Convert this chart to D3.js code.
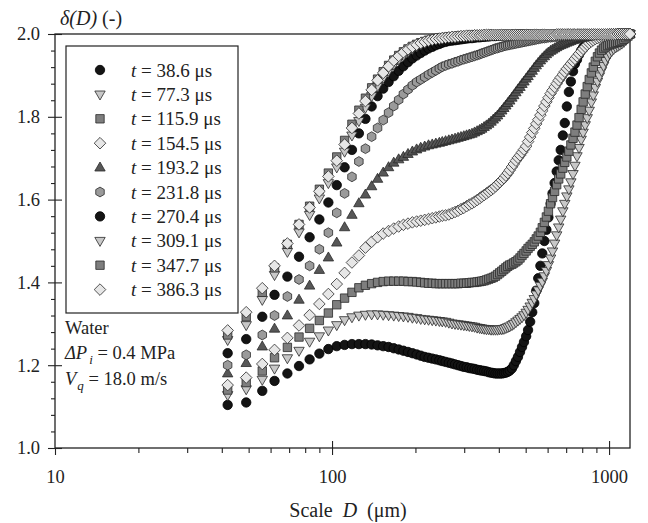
<!DOCTYPE html>
<html>
<head>
<meta charset="utf-8">
<script src="https://cdn.jsdelivr.net/npm/d3@7"></script>
<style>
  body { margin: 0; background: #fff; }
  svg { display: block; font-family: "Liberation Serif", "Times New Roman", serif; }
</style>
</head>
<body>
<div id="chart"></div>
<script>
// Scale D (um) at which delta(D) was evaluated
const scaleD = [42, 49, 56, 62, 69, 76, 83, 90, 97, 104,
  111, 118, 125, 132, 139, 146, 153, 160, 167, 174,
  181, 188, 195, 202, 209, 216, 223, 230, 237, 244,
  250, 257, 264, 271, 278, 285, 292, 299, 306, 313,
  320, 327, 334, 341, 347, 354, 361, 368, 375, 382,
  389, 396, 403, 410, 417, 424, 431, 438, 446, 453,
  461, 469, 477, 485, 493, 502, 510, 519, 528, 537,
  546, 555, 565, 574, 584, 594, 604, 615, 625, 636,
  647, 658, 669, 681, 692, 704, 716, 728, 741, 753,
  766, 779, 793, 806, 820, 834, 848, 863, 877, 892,
  908, 923, 939, 955, 971, 988, 1005, 1022, 1039, 1057,
  1075, 1093, 1112, 1131, 1150, 1170, 1190];

// delta(D) for each time step
const delta_t38_6 = [1.104, 1.110, 1.138, 1.162, 1.180, 1.198, 1.214, 1.228, 1.239, 1.246,
  1.249, 1.251, 1.251, 1.251, 1.250, 1.248, 1.246, 1.244, 1.241, 1.238,
  1.235, 1.232, 1.229, 1.226, 1.223, 1.220, 1.218, 1.216, 1.214, 1.212,
  1.210, 1.208, 1.206, 1.204, 1.202, 1.200, 1.198, 1.196, 1.195, 1.193,
  1.192, 1.191, 1.189, 1.188, 1.187, 1.186, 1.185, 1.183, 1.182, 1.181,
  1.180, 1.180, 1.180, 1.180, 1.181, 1.182, 1.184, 1.187, 1.192, 1.200,
  1.210, 1.220, 1.232, 1.244, 1.256, 1.270, 1.285, 1.305, 1.328, 1.350,
  1.380, 1.410, 1.440, 1.470, 1.500, 1.527, 1.557, 1.590, 1.615, 1.640,
  1.668, 1.695, 1.720, 1.755, 1.785, 1.825, 1.860, 1.885, 1.910, 1.928,
  1.938, 1.950, 1.960, 1.967, 1.973, 1.978, 1.982, 1.986, 1.988, 1.990,
  1.992, 1.993, 1.995, 1.996, 1.997, 1.998, 1.998, 1.999, 1.999, 2.000,
  2.000, 2.000, 2.000, 2.000, 2.000, 2.000, 2.000];

const delta_t77_3 = [1.128, 1.142, 1.165, 1.192, 1.217, 1.235, 1.257, 1.270, 1.284, 1.297,
  1.309, 1.316, 1.320, 1.322, 1.323, 1.323, 1.322, 1.321, 1.320, 1.319,
  1.318, 1.317, 1.315, 1.314, 1.312, 1.311, 1.310, 1.309, 1.308, 1.307,
  1.306, 1.305, 1.303, 1.301, 1.300, 1.299, 1.298, 1.297, 1.296, 1.295,
  1.294, 1.293, 1.291, 1.290, 1.289, 1.288, 1.287, 1.287, 1.286, 1.286,
  1.286, 1.286, 1.287, 1.287, 1.288, 1.290, 1.292, 1.294, 1.297, 1.300,
  1.304, 1.308, 1.312, 1.316, 1.321, 1.327, 1.334, 1.342, 1.351, 1.360,
  1.371, 1.381, 1.392, 1.402, 1.415, 1.428, 1.442, 1.458, 1.475, 1.494,
  1.514, 1.533, 1.552, 1.572, 1.590, 1.608, 1.625, 1.642, 1.662, 1.682,
  1.705, 1.725, 1.745, 1.762, 1.780, 1.797, 1.815, 1.835, 1.852, 1.870,
  1.885, 1.898, 1.911, 1.923, 1.935, 1.945, 1.953, 1.959, 1.964, 1.968,
  1.971, 1.974, 1.977, 1.981, 1.986, 1.992, 2.000];

const delta_t115_9 = [1.140, 1.158, 1.186, 1.218, 1.243, 1.268, 1.289, 1.308, 1.326, 1.346,
  1.362, 1.376, 1.387, 1.393, 1.397, 1.400, 1.402, 1.403, 1.403, 1.403,
  1.403, 1.402, 1.402, 1.401, 1.400, 1.399, 1.398, 1.398, 1.397, 1.397,
  1.397, 1.397, 1.397, 1.397, 1.397, 1.397, 1.398, 1.398, 1.398, 1.399,
  1.400, 1.400, 1.401, 1.402, 1.403, 1.404, 1.406, 1.408, 1.410, 1.412,
  1.415, 1.419, 1.423, 1.427, 1.431, 1.435, 1.439, 1.442, 1.444, 1.447,
  1.450, 1.454, 1.459, 1.465, 1.470, 1.476, 1.482, 1.487, 1.492, 1.498,
  1.505, 1.512, 1.521, 1.532, 1.545, 1.558, 1.572, 1.590, 1.605, 1.620,
  1.636, 1.650, 1.662, 1.676, 1.690, 1.703, 1.717, 1.732, 1.748, 1.763,
  1.780, 1.798, 1.818, 1.836, 1.855, 1.873, 1.890, 1.906, 1.920, 1.934,
  1.945, 1.954, 1.961, 1.966, 1.969, 1.972, 1.974, 1.976, 1.977, 1.979,
  1.980, 1.982, 1.984, 1.987, 1.991, 1.995, 2.000];

const delta_t154_5 = [1.152, 1.170, 1.203, 1.237, 1.266, 1.296, 1.321, 1.348, 1.372, 1.396,
  1.423, 1.448, 1.465, 1.484, 1.498, 1.509, 1.518, 1.524, 1.530, 1.535,
  1.539, 1.542, 1.545, 1.547, 1.549, 1.551, 1.553, 1.555, 1.557, 1.559,
  1.561, 1.562, 1.564, 1.567, 1.570, 1.573, 1.577, 1.580, 1.584, 1.588,
  1.591, 1.595, 1.599, 1.603, 1.607, 1.611, 1.615, 1.619, 1.623, 1.627,
  1.632, 1.637, 1.642, 1.647, 1.652, 1.658, 1.664, 1.671, 1.679, 1.686,
  1.694, 1.701, 1.707, 1.714, 1.721, 1.729, 1.740, 1.751, 1.762, 1.772,
  1.783, 1.793, 1.804, 1.815, 1.826, 1.836, 1.846, 1.856, 1.864, 1.872,
  1.880, 1.888, 1.895, 1.902, 1.909, 1.916, 1.922, 1.928, 1.934, 1.940,
  1.946, 1.952, 1.958, 1.964, 1.969, 1.974, 1.978, 1.982, 1.985, 1.988,
  1.990, 1.992, 1.994, 1.995, 1.996, 1.997, 1.998, 1.998, 1.999, 1.999,
  2.000, 2.000, 2.000, 2.000, 2.000, 2.000, 2.000];

const delta_t193_2 = [1.180, 1.205, 1.245, 1.288, 1.320, 1.358, 1.392, 1.430, 1.460, 1.496,
  1.533, 1.563, 1.591, 1.612, 1.632, 1.650, 1.665, 1.678, 1.689, 1.697,
  1.703, 1.710, 1.716, 1.721, 1.725, 1.728, 1.731, 1.733, 1.735, 1.737,
  1.739, 1.741, 1.743, 1.745, 1.747, 1.749, 1.751, 1.753, 1.755, 1.757,
  1.759, 1.762, 1.765, 1.768, 1.771, 1.775, 1.779, 1.783, 1.788, 1.793,
  1.798, 1.803, 1.809, 1.815, 1.821, 1.827, 1.833, 1.839, 1.846, 1.852,
  1.859, 1.866, 1.872, 1.879, 1.885, 1.892, 1.898, 1.905, 1.911, 1.918,
  1.924, 1.930, 1.936, 1.941, 1.946, 1.951, 1.955, 1.959, 1.962, 1.965,
  1.968, 1.971, 1.973, 1.975, 1.977, 1.979, 1.981, 1.983, 1.985, 1.986,
  1.988, 1.989, 1.990, 1.991, 1.992, 1.993, 1.994, 1.995, 1.995, 1.996,
  1.996, 1.997, 1.997, 1.998, 1.998, 1.998, 1.999, 1.999, 1.999, 1.999,
  2.000, 2.000, 2.000, 2.000, 2.000, 2.000, 2.000];

const delta_t231_8 = [1.200, 1.225, 1.273, 1.320, 1.366, 1.407, 1.440, 1.480, 1.520, 1.568,
  1.615, 1.655, 1.692, 1.723, 1.752, 1.773, 1.792, 1.810, 1.826, 1.841,
  1.855, 1.866, 1.876, 1.884, 1.890, 1.896, 1.902, 1.907, 1.912, 1.917,
  1.921, 1.924, 1.927, 1.929, 1.932, 1.934, 1.937, 1.939, 1.941, 1.943,
  1.945, 1.947, 1.949, 1.951, 1.953, 1.955, 1.957, 1.959, 1.961, 1.963,
  1.965, 1.966, 1.968, 1.969, 1.971, 1.972, 1.973, 1.974, 1.975, 1.976,
  1.977, 1.978, 1.979, 1.980, 1.981, 1.982, 1.983, 1.984, 1.985, 1.986,
  1.987, 1.988, 1.989, 1.990, 1.990, 1.991, 1.992, 1.992, 1.993, 1.993,
  1.994, 1.994, 1.995, 1.995, 1.995, 1.996, 1.996, 1.996, 1.997, 1.997,
  1.997, 1.997, 1.998, 1.998, 1.998, 1.998, 1.998, 1.999, 1.999, 1.999,
  1.999, 1.999, 1.999, 1.999, 1.999, 2.000, 2.000, 2.000, 2.000, 2.000,
  2.000, 2.000, 2.000, 2.000, 2.000, 2.000, 2.000];

const delta_t270_4 = [1.229, 1.263, 1.317, 1.370, 1.414, 1.462, 1.509, 1.552, 1.593, 1.635,
  1.678, 1.720, 1.760, 1.795, 1.825, 1.850, 1.868, 1.884, 1.898, 1.911,
  1.922, 1.932, 1.941, 1.948, 1.954, 1.960, 1.965, 1.969, 1.973, 1.976,
  1.979, 1.981, 1.983, 1.984, 1.985, 1.986, 1.987, 1.988, 1.989, 1.990,
  1.990, 1.991, 1.992, 1.992, 1.993, 1.993, 1.994, 1.994, 1.995, 1.995,
  1.995, 1.996, 1.996, 1.996, 1.997, 1.997, 1.997, 1.997, 1.998, 1.998,
  1.998, 1.998, 1.998, 1.998, 1.998, 1.998, 1.998, 1.998, 1.998, 1.998,
  1.998, 1.998, 1.998, 1.998, 1.998, 1.998, 1.998, 1.998, 1.998, 1.998,
  1.998, 1.998, 1.998, 1.998, 1.998, 1.998, 1.998, 1.998, 1.998, 1.998,
  1.999, 1.999, 1.999, 1.999, 1.999, 1.999, 1.999, 1.999, 1.999, 1.999,
  1.999, 1.999, 1.999, 1.999, 1.999, 1.999, 1.999, 1.999, 1.999, 1.999,
  2.000, 2.000, 2.000, 2.000, 2.000, 2.000, 2.000];

const delta_t309_1 = [1.261, 1.297, 1.358, 1.418, 1.474, 1.521, 1.563, 1.603, 1.640, 1.678,
  1.716, 1.755, 1.790, 1.822, 1.850, 1.874, 1.894, 1.911, 1.926, 1.938,
  1.948, 1.957, 1.964, 1.970, 1.975, 1.979, 1.982, 1.985, 1.987, 1.988,
  1.989, 1.990, 1.991, 1.992, 1.992, 1.993, 1.994, 1.994, 1.995, 1.995,
  1.995, 1.996, 1.996, 1.996, 1.997, 1.997, 1.997, 1.997, 1.998, 1.998,
  1.998, 1.998, 1.998, 1.998, 1.998, 1.998, 1.998, 1.998, 1.998, 1.998,
  1.998, 1.998, 1.998, 1.998, 1.998, 1.998, 1.998, 1.998, 1.998, 1.998,
  1.998, 1.998, 1.998, 1.998, 1.998, 1.998, 1.998, 1.998, 1.998, 1.998,
  1.999, 1.999, 1.999, 1.999, 1.999, 1.999, 1.999, 1.999, 1.999, 1.999,
  1.999, 1.999, 1.999, 1.999, 1.999, 1.999, 1.999, 1.999, 1.999, 1.999,
  1.999, 1.999, 1.999, 1.999, 1.999, 1.999, 1.999, 1.999, 1.999, 1.999,
  2.000, 2.000, 2.000, 2.000, 2.000, 2.000, 2.000];

const delta_t347_7 = [1.273, 1.317, 1.376, 1.435, 1.492, 1.540, 1.584, 1.625, 1.664, 1.703,
  1.743, 1.782, 1.816, 1.845, 1.870, 1.891, 1.909, 1.924, 1.937, 1.948,
  1.957, 1.964, 1.970, 1.975, 1.979, 1.982, 1.985, 1.987, 1.989, 1.990,
  1.991, 1.992, 1.993, 1.993, 1.994, 1.995, 1.995, 1.996, 1.996, 1.996,
  1.997, 1.997, 1.997, 1.997, 1.998, 1.998, 1.998, 1.998, 1.998, 1.998,
  1.998, 1.998, 1.998, 1.998, 1.998, 1.998, 1.998, 1.998, 1.998, 1.998,
  1.998, 1.998, 1.998, 1.998, 1.998, 1.998, 1.998, 1.998, 1.998, 1.998,
  1.998, 1.998, 1.998, 1.998, 1.998, 1.998, 1.998, 1.998, 1.998, 1.998,
  1.999, 1.999, 1.999, 1.999, 1.999, 1.999, 1.999, 1.999, 1.999, 1.999,
  1.999, 1.999, 1.999, 1.999, 1.999, 1.999, 1.999, 1.999, 1.999, 1.999,
  1.999, 1.999, 1.999, 1.999, 1.999, 1.999, 1.999, 1.999, 1.999, 1.999,
  2.000, 2.000, 2.000, 2.000, 2.000, 2.000, 2.000];

const delta_t386_3 = [1.284, 1.328, 1.386, 1.440, 1.494, 1.540, 1.581, 1.620, 1.656, 1.694,
  1.733, 1.773, 1.808, 1.838, 1.865, 1.888, 1.906, 1.922, 1.936, 1.947,
  1.956, 1.963, 1.969, 1.974, 1.978, 1.981, 1.984, 1.986, 1.988, 1.989,
  1.990, 1.991, 1.992, 1.993, 1.993, 1.994, 1.995, 1.995, 1.996, 1.996,
  1.996, 1.997, 1.997, 1.997, 1.997, 1.998, 1.998, 1.998, 1.998, 1.998,
  1.998, 1.998, 1.998, 1.998, 1.998, 1.998, 1.998, 1.998, 1.998, 1.998,
  1.998, 1.998, 1.998, 1.998, 1.998, 1.998, 1.998, 1.998, 1.998, 1.998,
  1.998, 1.998, 1.998, 1.998, 1.998, 1.998, 1.998, 1.998, 1.998, 1.998,
  1.999, 1.999, 1.999, 1.999, 1.999, 1.999, 1.999, 1.999, 1.999, 1.999,
  1.999, 1.999, 1.999, 1.999, 1.999, 1.999, 1.999, 1.999, 1.999, 1.999,
  1.999, 1.999, 1.999, 1.999, 1.999, 1.999, 1.999, 1.999, 1.999, 1.999,
  2.000, 2.000, 2.000, 2.000, 2.000, 2.000, 2.000];

const timeLabels = ["38.6", "77.3", "115.9", "154.5", "193.2", "231.8", "270.4", "309.1", "347.7", "386.3"];
const markerShapes = ["circle", "triDown", "square", "diamond", "triUp", "hexagon", "circle", "triDown", "square", "diamond"];
const markerFills = ["#141414", "#c8c8c8", "#7e7e7e", "#e6e6e6", "#575757", "#9a9a9a", "#141414", "#c8c8c8", "#7e7e7e", "#e6e6e6"];

const yTicks = [1.0, 1.2, 1.4, 1.6, 1.8, 2.0];
const yMinorTicks = [1.04, 1.08, 1.12, 1.16, 1.24, 1.28, 1.32, 1.36, 1.44, 1.48, 1.52, 1.56,
  1.64, 1.68, 1.72, 1.76, 1.84, 1.88, 1.92, 1.96];
const xTicks = [10, 100, 1000];
const xMinorTicks = [20, 30, 40, 50, 60, 70, 80, 90, 200, 300, 400, 500, 600, 700, 800, 900];

const allSeries = [delta_t38_6, delta_t77_3, delta_t115_9, delta_t154_5, delta_t193_2,
  delta_t231_8, delta_t270_4, delta_t309_1, delta_t347_7, delta_t386_3];

// -------------------------------------------------------------------------
// Canvas
// -------------------------------------------------------------------------
const W = 648, H = 523;
const plot = { left: 55, right: 630, top: 34, bottom: 448 };

const svg = d3.select("#chart").append("svg")
    .attr("width", W)
    .attr("height", H);

const x = d3.scaleLog().domain([10, 1190]).range([plot.left, plot.right]);
const y = d3.scaleLinear().domain([1, 2]).range([plot.bottom, plot.top]);

// marker shapes, centred on 0,0
function markerPath(shape) {
    switch (shape) {
        case "circle": return d3.symbol(d3.symbolCircle, Math.PI * 4.7 * 4.7)();
        case "square": return "M-4.2,-4.2H4.2V4.2H-4.2Z";
        case "diamond": return "M0,-5.8L5.8,0L0,5.8L-5.8,0Z";
        case "triUp": return "M0,-5.6L5.2,3.4L-5.2,3.4Z";
        case "triDown": return "M0,5.6L5.2,-3.4L-5.2,-3.4Z";
        case "hexagon": {
            const pts = d3.range(6).map(k => {
                const a = Math.PI / 3 * k - Math.PI / 2;
                return [4.9 * Math.cos(a), 4.9 * Math.sin(a)];
            });
            return d3.line().curve(d3.curveLinearClosed)(pts);
        }
    }
}

// -------------------------------------------------------------------------
// Axes
// -------------------------------------------------------------------------
const fontSize = "18.5px";

// y axis: crossing major ticks, minor ticks outside
svg.append("g")
    .attr("transform", `translate(${plot.left},0)`)
    .call(d3.axisLeft(y).tickValues(yTicks).tickSize(7).tickSizeOuter(0).tickPadding(8)
        .tickFormat(d3.format(".1f")));
svg.append("g")
    .attr("transform", `translate(${plot.left},0)`)
    .call(d3.axisLeft(y).tickValues(yTicks).tickSize(-7).tickSizeOuter(0).tickFormat(""));
svg.append("g")
    .attr("transform", `translate(${plot.left},0)`)
    .call(d3.axisLeft(y).tickValues(yMinorTicks).tickSize(4).tickSizeOuter(0).tickFormat(""));

// x axis
svg.append("g")
    .attr("transform", `translate(0,${plot.bottom})`)
    .call(d3.axisBottom(x).tickValues(xTicks).tickSize(7).tickSizeOuter(0).tickPadding(15)
        .tickFormat(d3.format("d")));
svg.append("g")
    .attr("transform", `translate(0,${plot.bottom})`)
    .call(d3.axisBottom(x).tickValues(xTicks.slice(1)).tickSize(-7).tickSizeOuter(0).tickFormat(""));
svg.append("g")
    .attr("transform", `translate(0,${plot.bottom})`)
    .call(d3.axisBottom(x).tickValues(xMinorTicks).tickSize(5).tickSizeOuter(0).tickFormat(""));

svg.selectAll(".domain").remove();
svg.selectAll(".tick line").attr("stroke", "#222").attr("stroke-width", 1.1);
svg.selectAll(".tick text")
    .attr("fill", "#222")
    .style("font-size", fontSize)
    .style("font-family", "'Liberation Serif', 'Times New Roman', serif");

// frame
svg.append("rect")
    .attr("x", plot.left)
    .attr("y", plot.top)
    .attr("width", plot.right - plot.left)
    .attr("height", plot.bottom - plot.top)
    .attr("fill", "none")
    .attr("stroke", "#222")
    .attr("stroke-width", 1.3);

// axis titles
const yTitle = svg.append("text")
    .attr("x", 60)
    .attr("y", 25)
    .attr("fill", "#222")
    .style("font-size", "20px");
yTitle.append("tspan").style("font-style", "italic").text("δ(D)");
yTitle.append("tspan").text(" (-)");

const xTitle = svg.append("text")
    .attr("x", 348)
    .attr("y", 517)
    .attr("text-anchor", "middle")
    .attr("fill", "#222")
    .style("font-size", "20px")
    .style("word-spacing", "5px");
xTitle.append("tspan").text("Scale ");
xTitle.append("tspan").style("font-style", "italic").text("D");
xTitle.append("tspan").text(" (μm)");

// -------------------------------------------------------------------------
// Data markers
// -------------------------------------------------------------------------
allSeries.forEach((values, i) => {
    const pts = scaleD.map((d, k) => ({ D: d, v: values[k] }));
    svg.append("g")
        .attr("class", `series-${i}`)
        .selectAll("path")
        .data(pts)
        .join("path")
        .attr("transform", d => `translate(${x(d.D)},${y(d.v)})`)
        .attr("d", markerPath(markerShapes[i]))
        .attr("fill", markerFills[i])
        .attr("stroke", markerShapes[i] === "circle" ? "#000" : "#2a2a2a")
        .attr("stroke-width", 0.8);
});

// -------------------------------------------------------------------------
// Legend
// -------------------------------------------------------------------------
const legend = svg.append("g");
legend.append("rect")
    .attr("x", 66)
    .attr("y", 46)
    .attr("width", 172)
    .attr("height", 267)
    .attr("fill", "#fff")
    .attr("stroke", "#222")
    .attr("stroke-width", 1.2);

timeLabels.forEach((t, i) => {
    const rowY = 70 + i * 24.4;
    legend.append("path")
        .attr("transform", `translate(100,${rowY})`)
        .attr("d", markerPath(markerShapes[i]))
        .attr("fill", markerFills[i])
        .attr("stroke", markerShapes[i] === "circle" ? "#000" : "#2a2a2a")
        .attr("stroke-width", 0.8);
    const label = legend.append("text")
        .attr("x", 131)
        .attr("y", rowY)
        .attr("dy", "0.35em")
        .attr("fill", "#222")
        .style("font-size", "19px");
    label.append("tspan").style("font-style", "italic").text("t");
    label.append("tspan").text(` = ${t} μs`);
});

// -------------------------------------------------------------------------
// Conditions annotation
// -------------------------------------------------------------------------
const note = svg.append("g").attr("fill", "#222").style("font-size", "18.5px");
note.append("text").attr("x", 65).attr("y", 334).text("Water");

const dp = note.append("text").attr("x", 65).attr("y", 359);
dp.append("tspan").style("font-style", "italic").text("ΔP");
dp.append("tspan").style("font-style", "italic").style("font-size", "13px").attr("dx", 2).attr("dy", 5).text("i");
dp.append("tspan").attr("dy", -5).text(" = 0.4 MPa");

const vq = note.append("text").attr("x", 65).attr("y", 385);
vq.append("tspan").style("font-style", "italic").text("V");
vq.append("tspan").style("font-style", "italic").style("font-size", "13px").attr("dx", 1).attr("dy", 5).text("q");
vq.append("tspan").attr("dy", -5).text(" = 18.0 m/s");
</script>
</body>
</html>
